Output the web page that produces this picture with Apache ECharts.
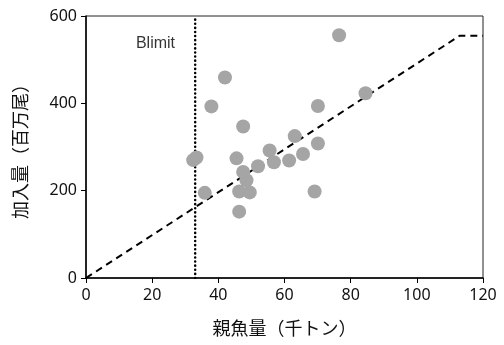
<!DOCTYPE html>
<html><head><meta charset="utf-8">
<script src="https://cdn.jsdelivr.net/npm/echarts@6/dist/echarts.min.js"></script>
<style>html,body{margin:0;padding:0;background:#fff}#c{width:504px;height:345px}</style>
</head><body><div id="c"></div>
<script>
const xTitle = '親魚量（千トン）';
const yTitle = '加入量（百万尾）';
const ssb = [32.4, 33.4, 35.9, 37.9, 42.0, 45.5, 46.3, 46.3, 47.5, 47.5, 48.5, 49.5, 52.0, 55.5, 56.8, 61.4, 63.1, 65.6, 69.1, 70.1, 70.1, 76.5, 84.5];
const rec = [270, 276, 195, 393, 459, 274, 198, 152, 347, 243, 224, 196, 256, 292, 265, 269, 325, 284, 198, 308, 394, 556, 423];
const hsX = [0, 113, 120];
const hsY = [0, 555, 555];
const blimit = 33;
const blimitLabel = 'Blimit';
const blimitLabelPos = [21, 536];

const pts = ssb.map((x, i) => [x, rec[i]]);
const hs = hsX.map((x, i) => [x, hsY[i]]);
const font = '"Noto Sans", "Noto Sans CJK JP", sans-serif';
const chart = echarts.init(document.getElementById('c'), null, {renderer: 'canvas'});
chart.setOption({
  animation: false,
  grid: {left: 86, right: 21, top: 16, bottom: 67, show: true, borderColor: '#222', borderWidth: 1,
         containLabel: false, outerBoundsMode: 'none'},
  xAxis: {
    type: 'value', min: 0, max: 120, interval: 20,
    name: xTitle, nameLocation: 'middle', nameGap: 43,
    nameTextStyle: {fontSize: 18, color: '#111', fontFamily: font},
    axisLine: {onZero: false, lineStyle: {color: '#000', width: 1.5}},
    axisTick: {show: true, length: 5, lineStyle: {color: '#000'}},
    axisLabel: {fontSize: 16, color: '#111', margin: 9, fontFamily: font},
    splitLine: {show: false}
  },
  yAxis: {
    type: 'value', min: 0, max: 600, interval: 200,
    name: yTitle, nameLocation: 'middle', nameGap: 55,
    nameTextStyle: {fontSize: 18, color: '#111', fontFamily: font},
    axisLine: {show: true, onZero: false, lineStyle: {color: '#000', width: 1.5}},
    axisTick: {show: true, length: 5, lineStyle: {color: '#000'}},
    axisLabel: {fontSize: 16, color: '#111', margin: 9, fontFamily: font},
    splitLine: {show: false}
  },
  series: [
    {
      type: 'line', data: hs, symbol: 'none', z: 2,
      lineStyle: {color: '#000', width: 2, type: [7, 5]}
    },
    {
      type: 'line', data: [[blimit, 0], [blimit, 600]], symbol: 'none', z: 2,
      lineStyle: {color: '#000', width: 2.5, type: [0.1, 4], cap: 'round'}
    },
    {
      type: 'scatter', data: pts, symbol: 'circle', symbolSize: 14, z: 3,
      itemStyle: {color: '#a5a5a5', opacity: 1}
    },
    {
      type: 'scatter', data: [blimitLabelPos], symbolSize: 0, z: 4,
      label: {show: true, position: 'inside', formatter: blimitLabel, fontSize: 16, color: '#000', fontFamily: '"Liberation Sans", Arial, sans-serif'}
    }
  ]
});
</script></body></html>
